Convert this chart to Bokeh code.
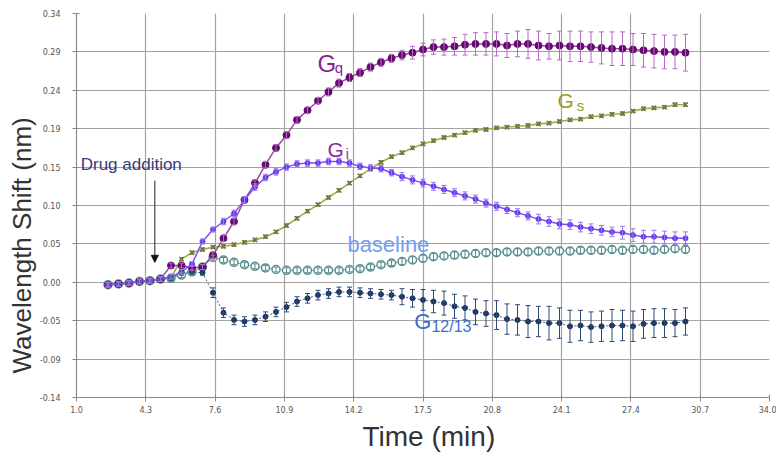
from bokeh.plotting import figure
from bokeh.models import ColumnDataSource, Whisker, TeeHead, Arrow, NormalHead, Range1d, Title
from bokeh.core.properties import value
from bokeh.embed import file_html
from bokeh.resources import INLINE

time_min = [2.5, 3.0, 3.5, 4.0, 4.5, 5.0, 5.5, 6.0, 6.5, 7.0, 7.5, 8.0, 8.5, 9.0, 9.5, 10.0,
            10.5, 11.0, 11.5, 12.0, 12.5, 13.0, 13.5, 14.0, 14.5, 15.0, 15.5, 16.0, 16.5, 17.0,
            17.5, 18.0, 18.5, 19.0, 19.5, 20.0, 20.5, 21.0, 21.5, 22.0, 22.5, 23.0, 23.5, 24.0,
            24.5, 25.0, 25.5, 26.0, 26.5, 27.0, 27.5, 28.0, 28.5, 29.0, 29.5, 30.0]

gq = [0.001, 0.002, 0.003, 0.005, 0.006, 0.008, 0.025, 0.025, 0.022, 0.023,
      0.038, 0.059, 0.080, 0.107, 0.128, 0.151, 0.172, 0.188, 0.207, 0.219,
      0.231, 0.242, 0.253, 0.260, 0.266, 0.273, 0.279, 0.284, 0.288, 0.291,
      0.295, 0.298, 0.298, 0.299, 0.301, 0.302, 0.302, 0.302, 0.300, 0.302,
      0.302, 0.300, 0.299, 0.300, 0.299, 0.299, 0.298, 0.297, 0.296, 0.296,
      0.295, 0.294, 0.293, 0.292, 0.292, 0.291]
gq_err = [0.003, 0.003, 0.003, 0.003, 0.003, 0.003, 0.003, 0.003, 0.003, 0.003,
          0.004, 0.004, 0.004, 0.004, 0.004, 0.004, 0.004, 0.004, 0.004, 0.004,
          0.004, 0.005, 0.005, 0.005, 0.005, 0.005, 0.005, 0.005,
          0.006, 0.008, 0.008, 0.009, 0.010, 0.011, 0.013, 0.014, 0.014, 0.015,
          0.015, 0.016, 0.018, 0.018, 0.016, 0.018, 0.019, 0.019, 0.019, 0.020,
          0.021, 0.021, 0.020, 0.021, 0.021, 0.021, 0.021, 0.023]

gi = [0.001, 0.002, 0.003, 0.005, 0.006, 0.008, 0.011, 0.017, 0.027, 0.055,
      0.070, 0.080, 0.090, 0.107, 0.123, 0.135, 0.142, 0.148, 0.152, 0.153,
      0.153, 0.155, 0.155, 0.153, 0.149, 0.147, 0.146, 0.141, 0.136, 0.132,
      0.128, 0.124, 0.120, 0.116, 0.112, 0.108, 0.103, 0.099, 0.095, 0.091,
      0.087, 0.083, 0.080, 0.077, 0.076, 0.073, 0.071, 0.069, 0.067, 0.066,
      0.063, 0.061, 0.061, 0.060, 0.059, 0.059]
gi_err = [0.003, 0.003, 0.003, 0.003, 0.003, 0.003, 0.003, 0.003, 0.003, 0.003, 0.003,
          0.004, 0.004, 0.004, 0.004, 0.004, 0.004, 0.004, 0.004, 0.004, 0.004,
          0.004, 0.004, 0.004, 0.004, 0.004, 0.004, 0.004,
          0.005, 0.005, 0.005, 0.005, 0.005, 0.005, 0.005, 0.005, 0.005, 0.005,
          0.005, 0.005, 0.005,
          0.006, 0.006, 0.006, 0.006, 0.006, 0.006, 0.006, 0.006,
          0.008, 0.008, 0.008, 0.008, 0.008, 0.008, 0.008]

gs = [0.001, 0.002, 0.003, 0.005, 0.006, 0.008, 0.010, 0.033, 0.041, 0.045,
      0.048, 0.049, 0.051, 0.054, 0.057, 0.061, 0.067, 0.075, 0.084, 0.093,
      0.101, 0.110, 0.119, 0.128, 0.137, 0.146, 0.154, 0.161, 0.166, 0.172,
      0.177, 0.181, 0.185, 0.188, 0.191, 0.194, 0.195, 0.197, 0.198, 0.199,
      0.200, 0.202, 0.203, 0.205, 0.207, 0.208, 0.211, 0.212, 0.214, 0.215,
      0.218, 0.221, 0.222, 0.223, 0.226, 0.226]
gs_err = [0.002, 0.002, 0.002, 0.002, 0.002, 0.002, 0.002, 0.002, 0.002, 0.002,
          0.002, 0.002, 0.002, 0.002, 0.002, 0.002, 0.002, 0.002, 0.002, 0.002,
          0.002, 0.002, 0.002, 0.002, 0.002, 0.002, 0.002, 0.002, 0.002, 0.002,
          0.002, 0.002, 0.002, 0.002, 0.002, 0.002, 0.002, 0.002, 0.002, 0.002,
          0.002, 0.002, 0.002, 0.002, 0.002, 0.002, 0.002, 0.002, 0.002, 0.002,
          0.002, 0.002, 0.002, 0.002, 0.002, 0.002]

baseline = [0.001, 0.002, 0.003, 0.005, 0.006, 0.008, 0.009, 0.013, 0.017, 0.023,
            0.035, 0.032, 0.029, 0.026, 0.024, 0.022, 0.020, 0.019, 0.019, 0.019,
            0.019, 0.019, 0.019, 0.020, 0.021, 0.023, 0.026, 0.028, 0.030, 0.032,
            0.034, 0.036, 0.037, 0.038, 0.039, 0.040, 0.041, 0.041, 0.042, 0.042,
            0.042, 0.043, 0.043, 0.043, 0.043, 0.044, 0.044, 0.044, 0.045, 0.044,
            0.045, 0.045, 0.044, 0.045, 0.046, 0.045]
baseline_err = [0.003, 0.003, 0.003, 0.003, 0.003, 0.003, 0.003, 0.003, 0.003, 0.003,
                0.003, 0.003, 0.003, 0.003, 0.003, 0.003, 0.003, 0.003, 0.003, 0.003,
                0.003, 0.003, 0.003, 0.003, 0.003, 0.003, 0.003, 0.003, 0.004, 0.004,
                0.004, 0.004, 0.004, 0.004, 0.004, 0.004, 0.004, 0.004, 0.004, 0.004,
                0.004, 0.004, 0.004, 0.004, 0.004, 0.004, 0.004, 0.004, 0.004, 0.004,
                0.004, 0.004, 0.004, 0.004, 0.004, 0.004]

g1213 = [0.001, 0.002, 0.003, 0.005, 0.006, 0.008, 0.009, 0.016, 0.017, 0.016,
         -0.009, -0.034, -0.043, -0.045, -0.043, -0.039, -0.033, -0.027, -0.020, -0.016,
         -0.012, -0.010, -0.008, -0.008, -0.009, -0.010, -0.011, -0.012, -0.014, -0.016,
         -0.018, -0.020, -0.022, -0.026, -0.028, -0.033, -0.035, -0.037, -0.042, -0.043,
         -0.045, -0.045, -0.047, -0.047, -0.051, -0.050, -0.052, -0.051, -0.050, -0.050,
         -0.051, -0.048, -0.047, -0.047, -0.047, -0.045]
g1213_err = [0.003, 0.003, 0.003, 0.003, 0.003, 0.003, 0.003, 0.003, 0.003, 0.003,
             0.006, 0.006, 0.006, 0.006, 0.006, 0.006, 0.006, 0.006, 0.006, 0.006,
             0.006, 0.006, 0.006, 0.006, 0.006, 0.006, 0.006, 0.006,
             0.010, 0.011, 0.013, 0.014, 0.015, 0.015, 0.015, 0.016, 0.016, 0.018,
             0.019, 0.019, 0.020, 0.019, 0.021, 0.019, 0.020, 0.019, 0.019, 0.019,
             0.020, 0.019, 0.019, 0.018, 0.018, 0.018, 0.017, 0.017]

x_ticks = [1.0, 4.3, 7.6, 10.9, 14.2, 17.5, 20.8, 24.1, 27.4, 30.7, 34.0]
x_tick_labels = ["1.0", "4.3", "7.6", "10.9", "14.2", "17.5", "20.8", "24.1", "27.4", "30.7", "34.0"]
y_ticks = [-0.14, -0.092, -0.044, 0.004, 0.052, 0.1, 0.148, 0.196, 0.244, 0.292, 0.34]
y_tick_labels = ["-0.14", "-0.09", "-0.05", "0.00", "0.05", "0.10", "0.15", "0.19", "0.24", "0.29", "0.34"]

p = figure(width=776, height=458, output_backend="svg", toolbar_location=None,
           x_range=Range1d(1.0, 34.0), y_range=Range1d(-0.14, 0.34),
           min_border_left=76, min_border_right=7, min_border_top=13, min_border_bottom=61)
p.outline_line_color = None
p.background_fill_color = "white"
p.border_fill_color = "white"

p.xaxis.ticker = x_ticks
p.yaxis.ticker = y_ticks
p.xaxis.major_label_overrides = dict(zip(x_ticks, x_tick_labels))
p.yaxis.major_label_overrides = dict(zip(y_ticks, y_tick_labels))

for ax in (p.xaxis, p.yaxis):
    ax.axis_line_color = "#8a8a8a"
    ax.axis_line_width = 1.2
    ax.major_tick_line_color = "#8a8a8a"
    ax.major_tick_in = 3
    ax.major_tick_out = 4
    ax.minor_tick_line_color = None
    ax.major_label_text_font = "DejaVu Sans"
    ax.major_label_text_font_size = "8px"
    ax.major_label_text_color = "#555555"

p.xaxis.major_label_standoff = 4
p.yaxis.major_label_standoff = 12

p.grid.grid_line_color = "#a3a3a3"
p.grid.grid_line_width = 1.2

p.add_layout(Title(text="Wavelength Shift (nm)", align="left", offset=24, standoff=0,
                   text_font="Liberation Sans", text_font_size="26px",
                   text_font_style="normal", text_color="#333333"), "left")
p.add_layout(Title(text="Time (min)", align="left", offset=286, standoff=10,
                   vertical_align="top",
                   text_font="Liberation Sans", text_font_size="28px",
                   text_font_style="normal", text_color="#333333"), "below")


def series(vals, errs, line_color, line_width, bar_color, line_dash="solid"):
    src = ColumnDataSource(dict(
        t=time_min, v=vals,
        lo=[a - b for a, b in zip(vals, errs)],
        hi=[a + b for a, b in zip(vals, errs)]))
    p.line("t", "v", source=src, line_color=line_color, line_width=line_width, line_dash=line_dash)
    w = Whisker(base="t", lower="lo", upper="hi", source=src, line_color=bar_color, line_width=1,
                upper_head=TeeHead(size=5, line_color=bar_color, line_width=1),
                lower_head=TeeHead(size=5, line_color=bar_color, line_width=1))
    w.level = "glyph"
    p.add_layout(w)
    return src


src_gs = series(gs, gs_err, "#a8a84a", 1.6, "#7d7d45")
p.scatter("t", "v", source=src_gs, marker="x", size=6, line_color="#5e6a3a", line_width=1.5)

src_bl = series(baseline, baseline_err, "#79a3a3", 1.0, "#5b8f8f")
p.scatter("t", "v", source=src_bl, marker="circle", size=8, fill_color="white",
          line_color="#5b8f8f", line_width=1.5)

src_g12 = series(g1213, g1213_err, "#3c5b88", 1.0, "#2d4a75", line_dash="2 2")
p.scatter("t", "v", source=src_g12, marker="circle", size=5, fill_color="#1d3560",
          line_color="#1d3560")

src_gq = series(gq, gq_err, "#9a4aa6", 1.5, "#b56ac4")
p.scatter("t", "v", source=src_gq, marker="circle", size=7, fill_color="#650a6e",
          line_color="#650a6e")

src_gi = series(gi, gi_err, "#8050f2", 1.5, "#9a78f0")
p.scatter("t", "v", source=src_gi, marker="circle", size=5, fill_color="#6a3cf0",
          line_color="#6a3cf0")

font = value("Liberation Sans")


def label(x, y, txt, size, color):
    p.text(x=[x], y=[y], text=[txt], text_font=font, text_font_size=value(size),
           text_color=color, text_align="left", text_baseline="alphabetic")


label(12.48, 0.277, "G", "24px", "#8a1f8e")
label(13.30, 0.273, "q", "15px", "#8a1f8e")
label(12.95, 0.1706, "G", "21px", "#8a2a9a")
label(13.82, 0.1645, "i", "14px", "#8a2a9a")
label(23.90, 0.2311, "G", "21px", "#9a9a1e")
label(24.82, 0.2245, "s", "15px", "#9a9a1e")
label(13.90, 0.0516, "baseline", "22px", "#73a0ee")
label(17.08, -0.0444, "G", "22px", "#3b6fcf")
label(17.90, -0.0517, "12/13", "16px", "#3b6fcf")
label(1.2, 0.1515, "Drug addition", "17px", "#3a3a78")

p.add_layout(Arrow(end=NormalHead(size=7, fill_color="#111111", line_color="#111111"),
                   x_start=4.73, y_start=0.131, x_end=4.73, y_end=0.029,
                   line_color="#222222", line_width=1))

open("out.html", "w").write(file_html(p, INLINE))
